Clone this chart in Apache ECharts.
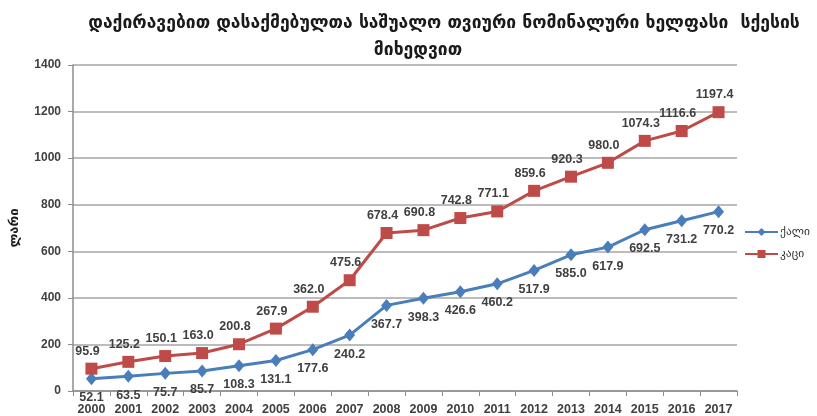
<!DOCTYPE html>
<html>
<head>
<meta charset="utf-8">
<script src="https://cdn.jsdelivr.net/npm/echarts@6/dist/echarts.min.js"></script>
<style>
  html, body { margin: 0; padding: 0; background: #fff; }
  #chart { width: 817px; height: 416px; }
</style>
</head>
<body>
<div id="chart"></div>
<script>
// წლები
var years = ['2000', '2001', '2002', '2003', '2004', '2005', '2006', '2007', '2008',
  '2009', '2010', '2011', '2012', '2013', '2014', '2015', '2016', '2017'];
// ქალი
var women = [52.1, 63.5, 75.7, 85.7, 108.3, 131.1, 177.6, 240.2, 367.7,
  398.3, 426.6, 460.2, 517.9, 585.0, 617.9, 692.5, 731.2, 770.2];
// კაცი
var men = [95.9, 125.2, 150.1, 163.0, 200.8, 267.9, 362.0, 475.6, 678.4,
  690.8, 742.8, 771.1, 859.6, 920.3, 980.0, 1074.3, 1116.6, 1197.4];
var yTicks = [0, 200, 400, 600, 800, 1000, 1200, 1400];

var chart = echarts.init(document.getElementById('chart'));

var labelFont = 'Liberation Sans';
var geoFont = 'DejaVu Sans';

var option = {
  animation: false,
  title: [
    {
      text: 'დაქირავებით დასაქმებულთა საშუალო თვიური ნომინალური ხელფასი  სქესის',
      left: 439, top: 9, textAlign: 'center',
      textStyle: { fontFamily: geoFont, fontSize: 17.5, fontWeight: 'bold', color: '#1a1a1a' }
    },
    {
      text: 'მიხედვით',
      left: 413, top: 36, textAlign: 'center',
      textStyle: { fontFamily: geoFont, fontSize: 17.5, fontWeight: 'bold', color: '#1a1a1a' }
    }
  ],
  legend: {
    orient: 'vertical',
    left: 744, top: 226, padding: 0,
    itemWidth: 33, itemHeight: 10, itemGap: 10,
    textStyle: { fontFamily: geoFont, fontSize: 11.5, color: '#333', padding: [0, 0, 0, -3] },
    data: ['ქალი', 'კაცი']
  },
  grid: { left: 72, right: 80, top: 65, bottom: 25 },
  xAxis: {
    type: 'category',
    data: years,
    boundaryGap: true,
    axisLine: { lineStyle: { color: '#8c8c8c', width: 1.5 } },
    axisTick: { show: true, length: 5, interval: 0, lineStyle: { color: '#8c8c8c' } },
    axisLabel: { interval: 0, fontFamily: labelFont, fontSize: 12.5, fontWeight: 'bold', color: '#404040', margin: 12 }
  },
  yAxis: {
    type: 'value',
    min: yTicks[0], max: yTicks[yTicks.length - 1], interval: 200,
    name: 'ლარი',
    nameLocation: 'middle', nameRotate: 90, nameGap: 52,
    nameTextStyle: { fontFamily: geoFont, fontSize: 13, fontWeight: 'bold', color: '#1a1a1a' },
    axisLine: { show: true, lineStyle: { color: '#8c8c8c', width: 1.5 } },
    axisTick: { show: true, length: 5, lineStyle: { color: '#8c8c8c' } },
    axisLabel: {
      formatter: function (v) { return String(v); },
      fontFamily: labelFont, fontSize: 12, fontWeight: 'bold', color: '#404040', margin: 12
    },
    splitLine: { lineStyle: { color: '#a6a6a6', width: 1.5 } }
  },
  series: [
    {
      name: 'ქალი',
      type: 'line',
      data: women,
      symbol: 'diamond', symbolSize: [11, 13],
      itemStyle: { color: '#4a7ebb' },
      lineStyle: { color: '#4a7ebb', width: 3 },
      label: {
        show: true, position: 'bottom', distance: 6,
        formatter: function (p) { return p.value.toFixed(1); },
        fontFamily: labelFont, fontSize: 12.5, fontWeight: 'bold', color: '#404040'
      }
    },
    {
      name: 'კაცი',
      type: 'line',
      data: men,
      symbol: 'rect', symbolSize: 12,
      itemStyle: { color: '#be4b48' },
      lineStyle: { color: '#be4b48', width: 3 },
      label: {
        show: true, position: 'top', distance: 5, offset: [-4, 0],
        formatter: function (p) { return p.value.toFixed(1); },
        fontFamily: labelFont, fontSize: 12.5, fontWeight: 'bold', color: '#404040'
      }
    }
  ]
};

chart.setOption(option);
</script>
</body>
</html>
